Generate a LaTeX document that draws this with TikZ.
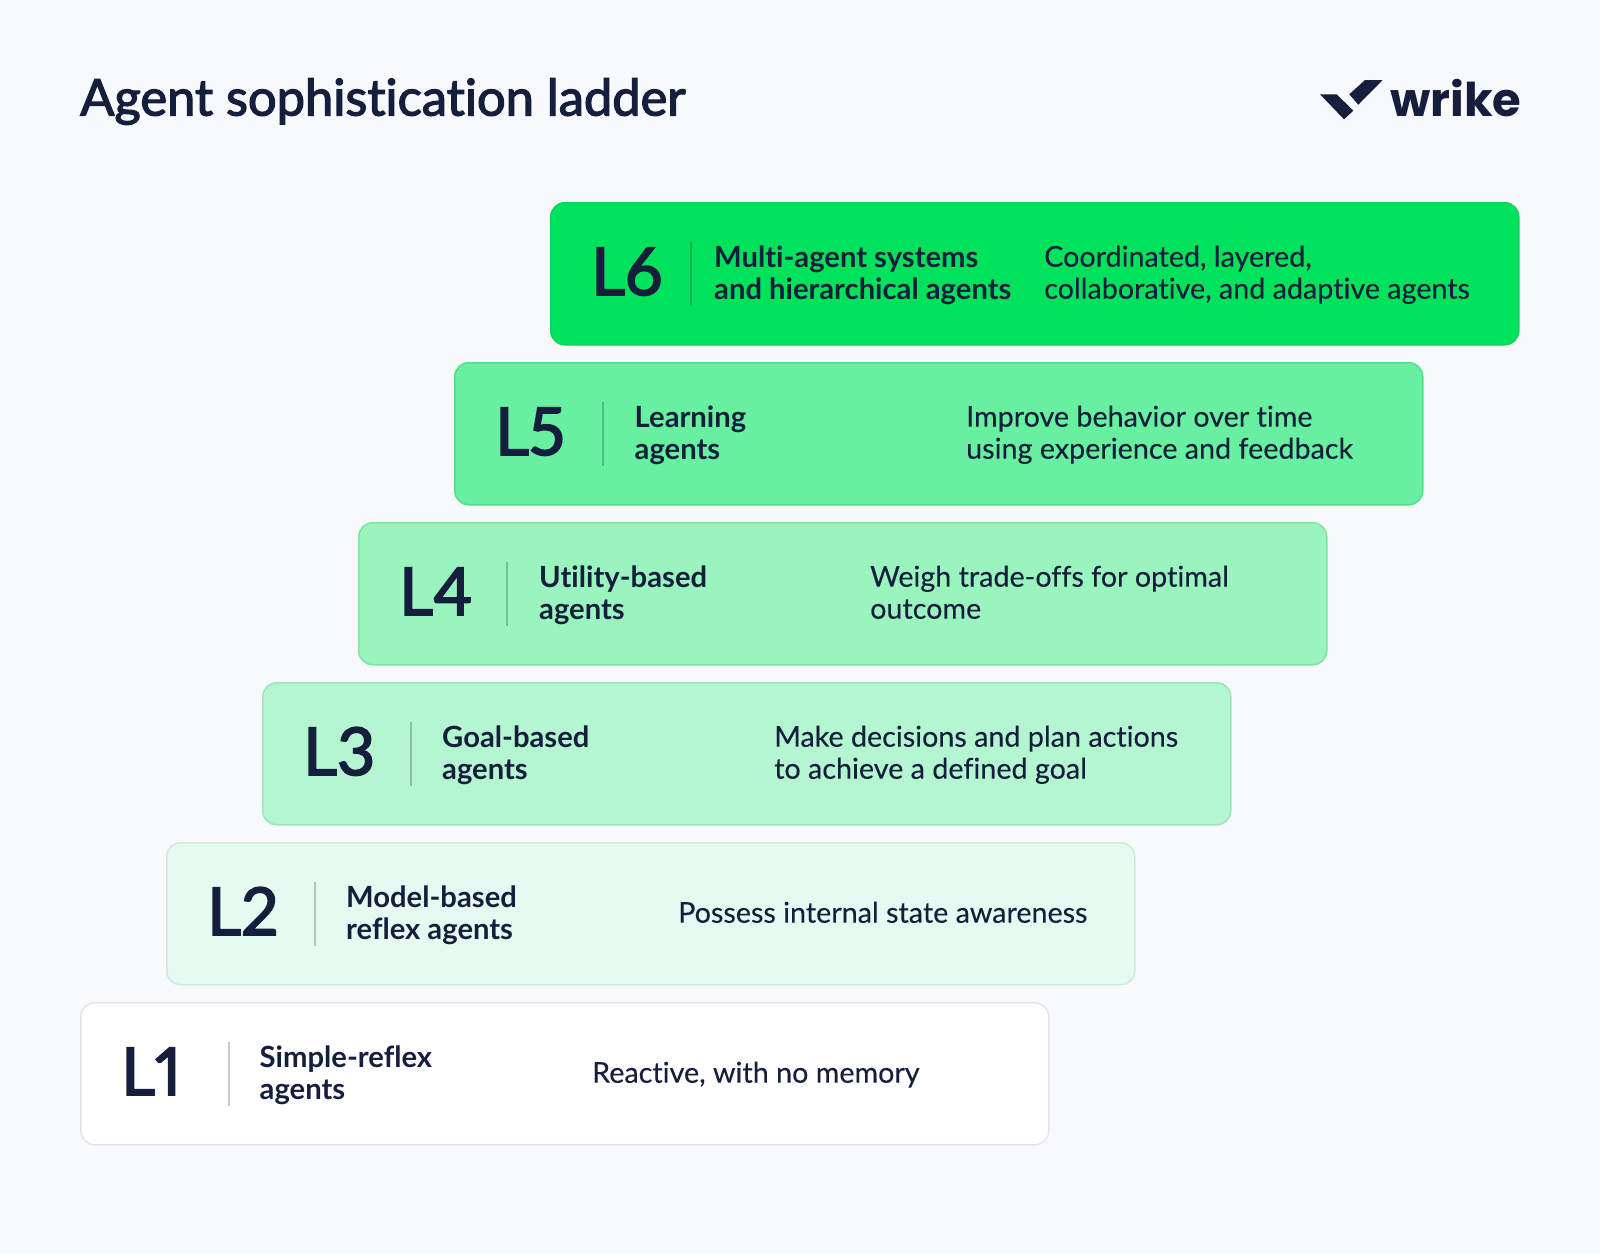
\documentclass[tikz,border=0pt]{standalone}
\usepackage{fontspec}
\setmainfont{Lato}[Ligatures=NoCommon]
\newfontfamily\logofont{Poppins}
\newfontfamily\medfont{Lato}[Ligatures=NoCommon,Numbers=Proportional,FakeBold=2.5]
\newfontfamily\bodyfont{Lato}[Ligatures=NoCommon,FakeBold=0.2]
\definecolor{ink}{HTML}{161E3D}
\definecolor{pagebg}{HTML}{F8F9FB}
\definecolor{fillsix}{HTML}{00E25B}\definecolor{edgesix}{HTML}{12D05F}
\definecolor{fillfive}{HTML}{66F0A0}\definecolor{edgefive}{HTML}{52DE8E}
\definecolor{fillfour}{HTML}{99F5BD}\definecolor{edgefour}{HTML}{7FE3A8}
\definecolor{fillthree}{HTML}{B3F6CF}\definecolor{edgethree}{HTML}{9BE5BB}
\definecolor{filltwo}{HTML}{E6FBEF}\definecolor{edgetwo}{HTML}{CFE9DA}
\definecolor{fillone}{HTML}{FFFFFF}\definecolor{edgeone}{HTML}{E3E5E8}
\newcommand{\ls}{\rule[-8pt]{0pt}{30pt}}
\tikzset{
  x=1pt,y=-1pt,
  rungbox/.style={draw=edge#1,fill=fill#1,line width=1.5pt,rounded corners=14pt,minimum width=968pt,minimum height=142pt,anchor=north west,inner sep=0pt},
  levellabel/.style={anchor=base west,inner sep=0pt,text=ink,font=\fontsize{66}{66}\selectfont\medfont},
  namelabel/.style={anchor=west,inner sep=0pt,text=ink,align=left,font=\fontsize{29.2}{32}\selectfont\bfseries},
  desclabel/.style={anchor=west,inner sep=0pt,text=ink,align=left,font=\fontsize{28.7}{32}\selectfont\bodyfont},
  sep/.style={draw=ink,opacity=.25,line width=1.5pt},
  logo/.style={fill=ink,draw=none}
}
\begin{document}
\begin{tikzpicture}
\fill[pagebg] (0,0) rectangle (1600,1254);
\useasboundingbox (0,0) rectangle (1600,1254);
\node[anchor=base west,inner sep=0pt,text=ink,font=\fontsize{50.6}{50.6}\selectfont\medfont] (title) at (80,115.5) {Agent sophistication ladder};
\fill[logo] (1320,94.3) -- (1336.7,94.3) -- (1353.3,110.7) -- (1344,119.3) -- cycle;
\fill[logo] (1349.3,94.3) -- (1365,80) -- (1382.7,80) -- (1358.3,104.7) -- cycle;
\node[anchor=base west,inner sep=0pt,text=ink,font=\fontsize{46.5}{46.5}\selectfont\logofont\bfseries] (brand) at (1390,116) {wrike};
% rung: key / left / top / level / name / description / desc offset / bar offset / name offset
\foreach \k/\xx/\yy/\lv/\nm/\ds/\dx/\bx/\tx in {
 one/80/1002/L1/{Simple-reflex\\\ls agents}/{Reactive, with no memory}/512/149/179.5,
 two/166/842/L2/{Model-based\\\ls reflex agents}/{Possess internal state awareness}/512/149/180,
 three/262/682/L3/{Goal-based\\\ls agents}/{Make decisions and plan actions\\\ls to achieve a defined goal}/512/149/180,
 four/358/522/L4/{Utility-based\\\ls agents}/{Weigh trade-offs for optimal\\\ls outcome}/512/149/181,
 five/454/362/L5/{Learning\\\ls agents}/{Improve behavior over time\\\ls using experience and feedback}/512/149/180.5,
 six/550/202/L6/{Multi-agent systems\\\ls and hierarchical agents}/{Coordinated, layered,\\\ls collaborative, and adaptive agents}/494/141/164}{
  \node[rungbox=\k] (box\k) at (\xx,\yy) {};
  \node[levellabel] (level\k) at (\xx+41,\yy+93) {\lv};
  \coordinate (bart\k) at (\xx+\bx,\yy+40);
  \coordinate (barb\k) at (\xx+\bx,\yy+104);
  \draw[sep] (bart\k) -- (barb\k);
  \node[namelabel] (name\k) at (\xx+\tx,\yy+74.2) {\ls\nm};
  \node[desclabel] (desc\k) at (\xx+\dx,\yy+73.7) {\ls\ds};
}
\end{tikzpicture}
\end{document}
